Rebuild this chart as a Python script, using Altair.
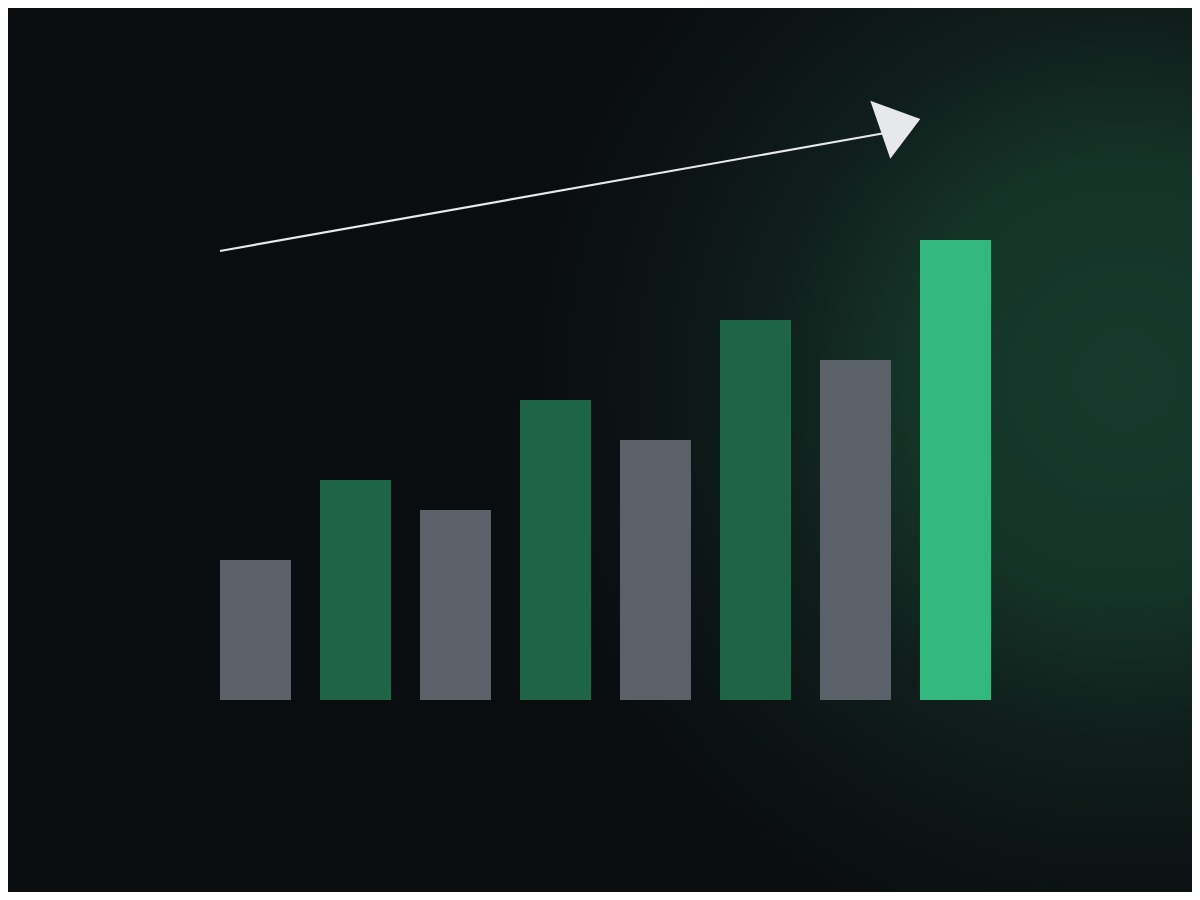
import altair as alt
import pandas as pd

# Bar data (heights in units, 10 px per unit on screen)
categories = ["P1", "P2", "P3", "P4", "P5", "P6", "P7", "P8"]
values = [14, 22, 19, 30, 26, 38, 34, 46]
kinds = ["base", "growth", "base", "growth", "base", "growth", "base", "peak"]

# Trend arrow (same data units as the bars)
trend_x = [-0.355, 6.325]
trend_y = [44.9, 56.75]
head_x = [6.648]
head_y = [58.1]

W, H = 1184, 884

bars_df = pd.DataFrame({"cat": categories, "idx": list(range(len(categories))),
                        "value": values, "kind": kinds})
trend_df = pd.DataFrame({"x": trend_x, "y": trend_y})
head_df = pd.DataFrame({"x": head_x, "y": head_y})

xscale = alt.Scale(domain=[-2.475, 9.365], nice=False, zero=False, padding=0)
yscale = alt.Scale(domain=[-19.2, 69.2], nice=False, zero=False, padding=0)

glow = alt.RadialGradient(
    gradient="radial",
    x1=0.9434, y1=0.4409, r1=0.0,
    x2=0.9434, y2=0.4409, r2=0.507,
    stops=[
        alt.GradientStop(offset=0.0, color="#163a2d"),
        alt.GradientStop(offset=0.35, color="#153428"),
        alt.GradientStop(offset=0.6, color="#0f1e1b"),
        alt.GradientStop(offset=0.8, color="#0c1415"),
        alt.GradientStop(offset=1.0, color="#0a0d10"),
    ],
)

bg = alt.Chart(pd.DataFrame({"a": [0]})).mark_rect(fill=glow, strokeWidth=0).encode(
    x=alt.value(0), x2=alt.value(W), y=alt.value(0), y2=alt.value(H)
)

bars = alt.Chart(bars_df).mark_bar(size=71).encode(
    x=alt.X("idx:Q", scale=xscale, axis=None),
    y=alt.Y("value:Q", scale=yscale, axis=None),
    y2=alt.datum(0),
    color=alt.Color("kind:N", scale=alt.Scale(domain=["base", "growth", "peak"],
                                              range=["#5a6169", "#1e6548", "#33b97f"]),
                    legend=None),
)

line = alt.Chart(trend_df).mark_line(color="#e6e8ec", strokeWidth=2.2).encode(
    x=alt.X("x:Q", scale=xscale, axis=None),
    y=alt.Y("y:Q", scale=yscale, axis=None),
)

head = alt.Chart(head_df).mark_point(
    shape="M0,0 L-1,-0.366 L-0.6,0.794 Z", size=10000, filled=True,
    color="#e6e8ec", opacity=1, strokeWidth=0,
).encode(
    x=alt.X("x:Q", scale=xscale, axis=None),
    y=alt.Y("y:Q", scale=yscale, axis=None),
)

chart = alt.layer(bg, bars, line, head).properties(
    width=W, height=H, padding=0, background="#0a0d10",
).configure_view(strokeWidth=0)

chart.save("out.html", embed_options={"renderer": "svg", "actions": False})
